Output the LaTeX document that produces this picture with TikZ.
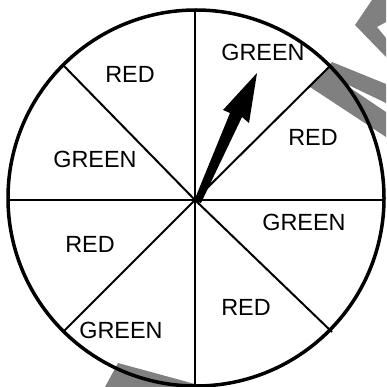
\documentclass[tikz,border=0pt]{standalone}
\usepackage{fontspec}
\setmainfont{Liberation Sans}
\definecolor{wm}{RGB}{128,128,128}
\begin{document}
\begin{tikzpicture}[x=1pt,y=-1pt,
  lbl/.style={inner sep=0pt,font=\fontsize{23.4}{28}\selectfont},
  spoke/.style={line width=2pt},
  rim/.style={line width=3.5pt}]
\useasboundingbox (0,0) rectangle (386,387);
% watermark fragments
\fill[wm] (355,25) -- (372,0) -- (386,0) -- (386,22) -- (377,27) -- (386,38) -- (386,57) -- cycle;
\fill[wm] (310,87) -- (332,62) -- (386,84) -- (386,103) -- (340,81) -- (386,112) -- (386,137) -- cycle;
\fill[wm] (105,387) -- (118,363) -- (195,384) -- (198,387) -- cycle;
% wheel
\coordinate (O) at (195,200);
\coordinate (N) at (195,9);
\coordinate (S) at (195,390);
\coordinate (W) at (8,200);
\coordinate (E) at (384,200);
\coordinate (NW) at (64,66);
\coordinate (NE) at (331,65);
\coordinate (SW) at (63,332);
\coordinate (SE) at (332,332);
\draw[spoke] (O) -- (N);
\draw[spoke] (O) -- (S);
\draw[spoke] (O) -- (W);
\draw[spoke] (O) -- (E);
\draw[spoke] (O) -- (NW);
\draw[spoke] (O) -- (NE);
\draw[spoke] (O) -- (SW);
\draw[spoke] (O) -- (SE);
\draw[rim] (196,198) circle[radius=188];
% pointer
\fill (194,201) -- (230,113) -- (223,110) -- (257,73) -- (249,123) -- (242,117) -- (201,203) -- cycle;
% labels
\node[lbl] (g1) at (263,52) {GREEN};
\node[lbl] (r1) at (130,74) {RED};
\node[lbl] (r2) at (313,137) {RED};
\node[lbl] (g2) at (95,159) {GREEN};
\node[lbl] (g3) at (304,222) {GREEN};
\node[lbl] (r3) at (90,244) {RED};
\node[lbl] (r4) at (246,307) {RED};
\node[lbl] (g4) at (121,330) {GREEN};
\end{tikzpicture}
\end{document}
